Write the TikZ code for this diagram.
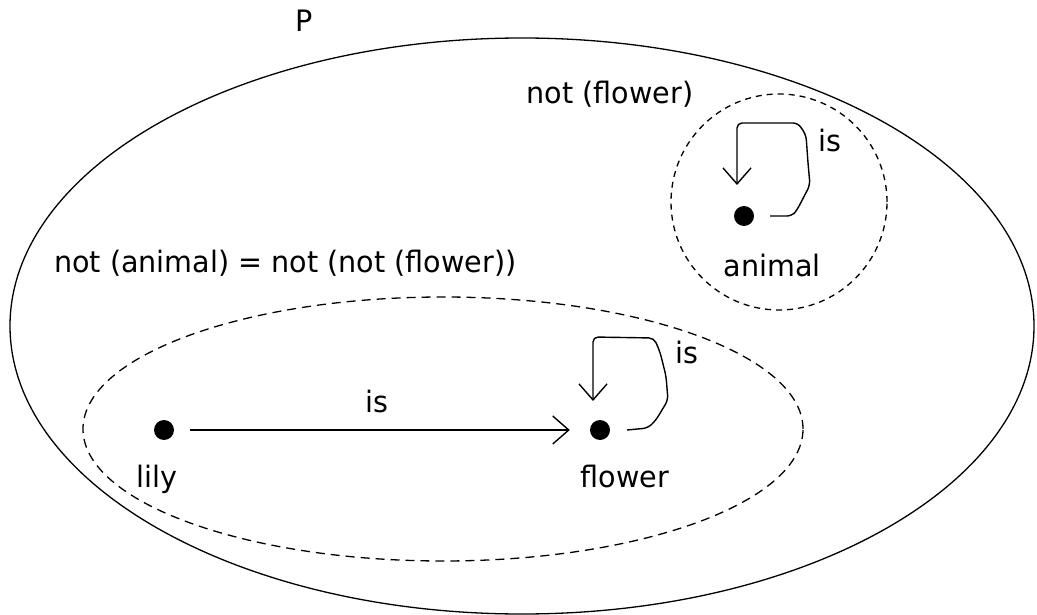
\documentclass[tikz,border=0pt]{standalone}
\usepackage{fontspec}
\setmainfont{DejaVu Sans}[FakeStretch=0.97]
\usetikzlibrary{arrows.meta,shapes.geometric}

\tikzset{
  region/.style={draw, ellipse, inner sep=0pt, line width=1.3pt},
  dashedregion/.style={region, dash pattern=on 9pt off 6pt},
  dottedregion/.style={region, dash pattern=on 6pt off 5pt},
  dot/.style={circle, fill=black, inner sep=0pt, minimum size=20pt},
  lbl/.style={inner sep=0pt, anchor=base, font=\fontsize{29.5}{34}\selectfont},
  isarrow/.style={line width=1.4pt,
    -{Straight Barb[length=16pt, width=28pt, line width=1.4pt]}},
  selfloop/.style={isarrow, rounded corners=5pt}
}

\begin{document}
\begin{tikzpicture}[x=1pt, y=-1pt]
  \useasboundingbox[fill=white] (0,0) rectangle (1037,615);

  % the sets
  \node[region, minimum width=1024pt, minimum height=576pt] (P) at (522,326) {};
  \node[dottedregion, minimum width=216pt, minimum height=216pt] (notflower) at (779,202) {};
  \node[dashedregion, minimum width=720pt, minimum height=264pt] (notanimal) at (443,429) {};

  % set labels
  \node[lbl] (Plabel) at (304,32) {P};
  \node[lbl] (notflowerlabel) at (610,104) {not (flower)};
  \node[lbl, anchor=base west] (notanimallabel) at (54,272) {not (animal) = not (not (flower))};

  % elements
  \node[dot] (animal) at (744,216) {};
  \node[dot] (lily) at (164,430) {};
  \node[dot] (flower) at (600,430) {};

  \node[lbl] (animallabel) at (772,276) {animal};
  \node[lbl] (lilylabel) at (157,487) {lily};
  \node[lbl] (flowerlabel) at (625,487) {flower};

  % relations
  \draw[isarrow, shorten <=16pt, shorten >=20pt] (lily) -- (flower);
  \node[lbl] (islily) at (377,412) {is};

  \draw[selfloop] ([xshift=26pt]animal.center)
      -- ++(22,0) -- ++(5,-6) -- ++(13,-25) -- ++(-2,-22) -- ++(-2,-28)
      -- ++(-8,-12) -- ++(-61,0) -- ++(0,62);
  \node[lbl] (isanimal) at (830,152) {is};

  \draw[selfloop] ([xshift=27pt]flower.center)
      -- ++(21,-2) -- ++(8,-8) -- ++(12,-20) -- ++(-2,-24) -- ++(-6,-24)
      -- ++(-6,-14) -- ++(-61,-1) -- ++(0,64);
  \node[lbl] (isflower) at (687,363) {is};
\end{tikzpicture}
\end{document}
